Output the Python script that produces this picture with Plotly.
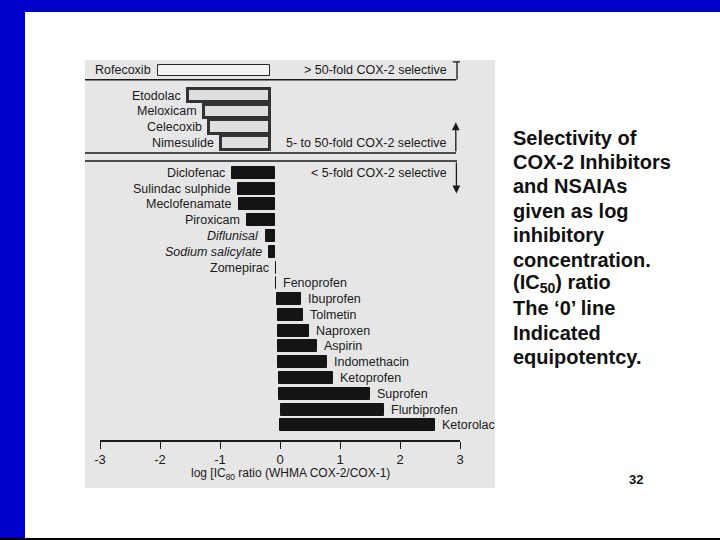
import numpy as np
import plotly.graph_objects as go

# ---------------- data ----------------
drugs = ["Rofecoxib", "Etodolac", "Meloxicam", "Celecoxib", "Nimesulide",
         "Diclofenac", "Sulindac sulphide", "Meclofenamate", "Piroxicam",
         "Diflunisal", "Sodium salicylate", "Zomepirac", "Fenoprofen",
         "Ibuprofen", "Tolmetin", "Naproxen", "Aspirin", "Indomethacin",
         "Ketoprofen", "Suprofen", "Flurbiprofen", "Ketorolac"]
group = [0, 1, 1, 1, 1, 2, 2, 2, 2, 2, 2, 2, 2, 2, 2, 2, 2, 2, 2, 2, 2, 2]
# bar start (scanned zero line) and bar end, in log IC80 ratio units
bar_from = [-0.17, -0.17, -0.17, -0.17, -0.17, -0.08, -0.08, -0.08, -0.08,
            -0.08, -0.08, -0.065, -0.075, -0.055, -0.04, -0.03, -0.03, -0.03,
            -0.02, -0.02, 0.01, 0.0]
bar_to = [-2.04, -1.54, -1.27, -1.18, -0.98, -0.80, -0.70, -0.68, -0.55,
          -0.23, -0.18, -0.075, -0.065, 0.35, 0.39, 0.49, 0.61, 0.78, 0.88,
          1.50, 1.74, 2.58]
group_labels = ["> 50-fold COX-2 selective", "5- to 50-fold COX-2 selective",
                "< 5-fold COX-2 selective"]
tick_vals = [-3, -2, -1, 0, 1, 2, 3]
tick_text = ["-3", "-2", "-1", "0", "1", "2", "3"]
x_title = "log [IC<sub>80</sub> ratio (WHMA COX-2/COX-1)"
desc_lines = ["Selectivity of", "COX-2 Inhibitors", "and NSAIAs", "given as log",
              "inhibitory", "concentration.", "(IC<sub>50</sub>) ratio",
              "The \u20180\u2019 line", "Indicated", "equipotentcy."]
page_no = "32"

# ---------------- layout helpers ----------------
FONT = "Liberation Sans, Arial, sans-serif"
INK = "#1a1a1a"
BLUE = "#0000CC"
ITALIC = {"Diflunisal", "Sodium salicylate"}
L, R, T, B = 100, 260, 60, 100
W, H = 720, 540
PW, PH = W - L - R, H - T - B


def pxx(px):
    return (px - L) / PW


def pxy(py):
    return (H - B - py) / PH


group = np.array(group)
idx = np.arange(len(drugs))
ypos = idx + 0.6 * (group >= 1) + 0.9 * (group >= 2)
pitch = 15.78
y_top = (T - 70.3) / pitch
y_bot = (H - B - 70.3) / pitch

fills = {0: "#f3f3f3", 1: "#dedede", 2: "#141414"}
lines = {0: "#2a2a2a", 1: "#333333", 2: "#141414"}
lwid = {0: 1, 1: 3, 2: 1}
thick = {0: 0.7, 1: 0.84, 2: 0.76}

b_from = np.array(bar_from)
b_to = np.array(bar_to)

fig = go.Figure()
fig.add_trace(go.Bar(
    orientation="h",
    y=ypos,
    base=b_from,
    x=b_to - b_from,
    width=[thick[g] for g in group],
    marker=dict(color=[fills[g] for g in group],
                line=dict(color=[lines[g] for g in group],
                          width=[lwid[g] for g in group])),
    hoverinfo="skip",
    showlegend=False,
))

ann = []
for name, yv, f, t in zip(drugs, ypos, b_from, b_to):
    left = t < f
    label = f"<i>{name}</i>" if name in ITALIC else name
    ann.append(dict(x=t, y=yv, xref="x", yref="y", text=label, showarrow=False,
                    xanchor="right" if left else "left", yanchor="middle",
                    xshift=-5 if left else 5,
                    font=dict(family=FONT, size=12.5, color=INK)))

# group labels (right aligned) at the row of their group edge
grp_rows = [ypos[0], ypos[4], ypos[5]]
for lab, yv in zip(group_labels, grp_rows):
    ann.append(dict(x=pxx(449), y=yv, xref="paper", yref="y", text=lab,
                    showarrow=False, xanchor="right", yanchor="middle",
                    font=dict(family=FONT, size=12.5, color=INK)))

sep1 = ypos[0] + 0.6
sep2a = ypos[4] + 0.64
sep2b = ypos[5] - 0.75
arrow_x = 2.93

# arrows marking the selectivity bands
ann.append(dict(x=arrow_x, y=ypos[3] - 0.3, ax=arrow_x, ay=sep2a, xref="x", yref="y",
                axref="x", ayref="y", text="", showarrow=True, arrowhead=2,
                arrowsize=1.2, arrowwidth=1.3, arrowcolor=INK))
ann.append(dict(x=arrow_x + 0.01, y=ypos[6] + 0.3, ax=arrow_x + 0.01, ay=sep2b,
                xref="x", yref="y", axref="x", ayref="y", text="", showarrow=True,
                arrowhead=2, arrowsize=1.2, arrowwidth=1.3, arrowcolor=INK))

# axis title
ann.append(dict(x=0.17, y=pxy(474), xref="x", yref="paper", text=x_title,
                showarrow=False, xanchor="center", yanchor="middle",
                font=dict(family=FONT, size=12, color=INK)))

# slide description text
for k, line in enumerate(desc_lines):
    ann.append(dict(x=pxx(511), y=pxy(137.5 + 24.4 * k), xref="paper", yref="paper",
                    text=f"<b>{line}</b>", showarrow=False, xanchor="left",
                    yanchor="middle", font=dict(family=FONT, size=20, color="#111111")))
ann.append(dict(x=pxx(636), y=pxy(480), xref="paper", yref="paper",
                text=f"<b>{page_no}</b>", showarrow=False, xanchor="center",
                yanchor="middle", font=dict(family=FONT, size=13, color="#111111")))

shapes = [
    # scanned figure background
    dict(type="rect", xref="paper", yref="paper", x0=pxx(85), x1=pxx(495),
         y0=pxy(488), y1=pxy(60), fillcolor="#e6e6e6", line=dict(width=0),
         layer="below"),
    # slide blue bands
    dict(type="rect", xref="paper", yref="paper", x0=pxx(0), x1=pxx(720),
         y0=pxy(12), y1=pxy(0), fillcolor=BLUE, line=dict(width=0), layer="below"),
    dict(type="rect", xref="paper", yref="paper", x0=pxx(0), x1=pxx(25),
         y0=pxy(538), y1=pxy(0), fillcolor=BLUE, line=dict(width=0), layer="below"),
    dict(type="line", xref="paper", yref="paper", x0=pxx(0), x1=pxx(720),
         y0=pxy(539), y1=pxy(539), line=dict(color="#000000", width=2)),
    # band separators
    dict(type="line", xref="paper", yref="y", x0=pxx(85), x1=pxx(456),
         y0=sep1, y1=sep1, line=dict(color=INK, width=1.5)),
    dict(type="line", xref="paper", yref="y", x0=pxx(85), x1=pxx(456),
         y0=sep2a, y1=sep2a, line=dict(color=INK, width=1.5)),
    dict(type="line", xref="paper", yref="y", x0=pxx(85), x1=pxx(457),
         y0=sep2b, y1=sep2b, line=dict(color=INK, width=1.5)),
    # top bracket (T-capped)
    dict(type="line", xref="x", yref="y", x0=arrow_x + 0.02, x1=arrow_x + 0.02,
         y0=sep1, y1=y_top + 0.12, line=dict(color=INK, width=1.3)),
    dict(type="line", xref="x", yref="y", x0=arrow_x - 0.05, x1=arrow_x + 0.09,
         y0=y_top + 0.12, y1=y_top + 0.12, line=dict(color=INK, width=1.3)),
]

fig.update_layout(
    width=W, height=H,
    margin=dict(l=L, r=R, t=T, b=B, pad=0),
    paper_bgcolor="white",
    plot_bgcolor="rgba(0,0,0,0)",
    bargap=0,
    showlegend=False,
    annotations=ann,
    shapes=shapes,
    xaxis=dict(range=[-3, 3], tickvals=tick_vals, ticktext=tick_text,
               showgrid=False, zeroline=False, showline=True,
               linecolor=INK, linewidth=1.5, ticks="outside", ticklen=7,
               tickwidth=1.3, tickcolor=INK,
               tickfont=dict(family=FONT, size=13, color=INK)),
    yaxis=dict(range=[y_bot, y_top], showgrid=False, zeroline=False,
               showticklabels=False, showline=False, ticks=""),
)

fig.write_html("out.html",
               config={"displayModeBar": False},
               post_script="document.body.style.margin='0px';"
                           "document.body.style.overflow='hidden';")
